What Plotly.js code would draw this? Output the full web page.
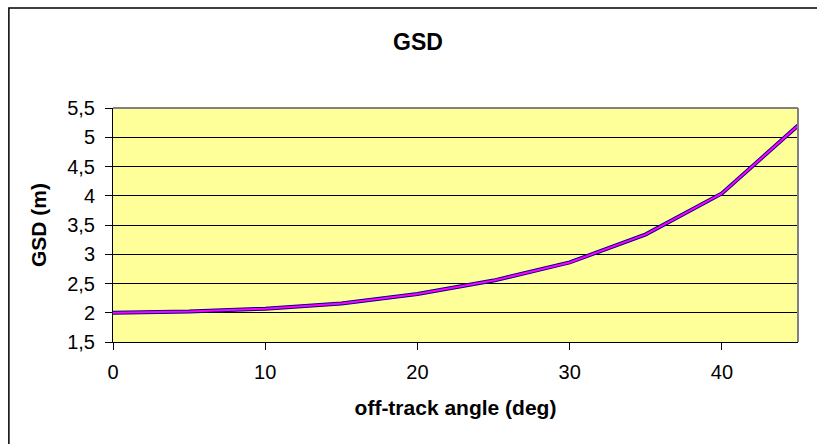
<!DOCTYPE html>
<html>
<head>
<meta charset="utf-8">
<script src="https://cdn.plot.ly/plotly-3.0.1.min.js"></script>
<style>
html,body{margin:0;padding:0;background:#fff;}
#chart{width:817px;height:444px;}
</style>
</head>
<body>
<div id="chart"></div>
<script>
const angles = [0, 5, 10, 15, 20, 25, 30, 35, 40, 45];
const gsd = [2.0, 2.02, 2.07, 2.16, 2.32, 2.55, 2.86, 3.34, 4.04, 5.2];
const yTicks = [1.5, 2, 2.5, 3, 3.5, 4, 4.5, 5, 5.5];
const xTicks = [0, 10, 20, 30, 40];

const traces = [
  {x: angles, y: gsd, type: 'scatter', mode: 'lines', line: {color: '#000080', width: 4}, hoverinfo: 'skip', showlegend: false, cliponaxis: false},
  {x: angles, y: gsd, type: 'scatter', mode: 'lines', line: {color: '#FF00FF', width: 2}, showlegend: false, cliponaxis: false}
];

const layout = {
  width: 817, height: 444,
  separators: ', ',
  paper_bgcolor: '#ffffff',
  plot_bgcolor: '#FFFF99',
  margin: {l: 113, r: 19, t: 108, b: 102},
  font: {family: 'Liberation Sans, Arial, sans-serif', color: '#000', size: 20},
  title: {text: '<b>GSD</b>', x: 418 / 817, xanchor: 'center', y: 1 - 42 / 444, yanchor: 'middle', yref: 'container', font: {size: 23}},
  xaxis: {
    range: [0, 45], tickvals: xTicks, ticktext: xTicks.map(String),
    ticks: 'outside', ticklen: 7, tickcolor: '#000', tickwidth: 1,
    ticklabelstandoff: 5,
    showline: true, linecolor: '#000', linewidth: 1,
    showgrid: false, zeroline: false, fixedrange: true,
    tickfont: {size: 20},
    title: {text: '<b>off-track angle (deg)</b>', font: {size: 21}, standoff: 18}
  },
  yaxis: {
    range: [1.5, 5.5], tickvals: yTicks, ticktext: yTicks.map(v => String(v).replace('.', ',')),
    ticks: 'outside', ticklen: 7, tickcolor: '#000', tickwidth: 1,
    ticklabelstandoff: 6,
    showline: true, linecolor: '#000', linewidth: 1,
    showgrid: true, gridcolor: '#000', gridwidth: 1,
    zeroline: false, fixedrange: true,
    tickfont: {size: 20},
    title: {text: '<b>GSD (m)</b>', font: {size: 21}, standoff: 14}
  },
  shapes: [
    {type: 'line', xref: 'paper', yref: 'paper', x0: 0, x1: 1, y0: 1, y1: 1, line: {color: '#808080', width: 2}},
    {type: 'line', xref: 'paper', yref: 'paper', x0: 1, x1: 1, y0: 0, y1: 1, line: {color: '#808080', width: 2}},
    {type: 'rect', xref: 'paper', yref: 'paper', x0: -0.152, x1: 1.1, y0: -0.47, y1: 1.427, line: {color: '#000', width: 1.5}, fillcolor: 'rgba(0,0,0,0)', layer: 'below'}
  ]
};

Plotly.newPlot('chart', traces, layout, {displayModeBar: false, staticPlot: true});
</script>
</body>
</html>
